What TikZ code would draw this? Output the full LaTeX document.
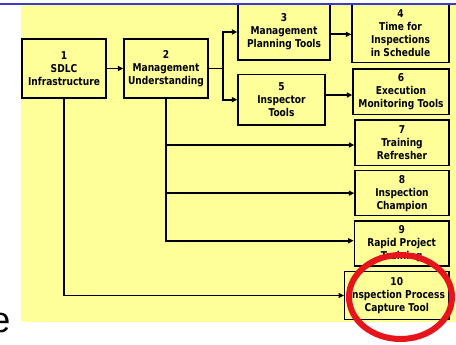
\documentclass[tikz,border=0pt]{standalone}
\usepackage{fontspec}
\setmainfont{DejaVu Sans}
\newfontfamily\boxfont{DejaVu Sans}[FakeStretch=0.84]
\newfontfamily\slidefont{Liberation Sans}
\usetikzlibrary{arrows.meta}
\definecolor{paper}{HTML}{FFFF99}
\definecolor{rulecol}{HTML}{3C3CC8}
\definecolor{markcol}{HTML}{E8141B}
\begin{document}
\begin{tikzpicture}[x=1pt,y=-1pt,
  box/.style={draw=black, line width=1.3pt, fill=paper, align=center,
    inner sep=0pt, font=\boxfont\fontsize{10.8}{13}\selectfont\bfseries},
  conn/.style={line width=1.8pt, -{Triangle[length=5.5pt,width=5pt]}},
  link/.style={line width=1.8pt}]
\useasboundingbox (0,0) rectangle (456,345);
\fill[white] (0,0) rectangle (456,345);
% slide panel
\fill[paper] (21,5) rectangle (456,321.7);
% partial slide title letter
\node[font=\slidefont\fontsize{36}{36}\selectfont, inner sep=0pt, anchor=base east] (title) at (10.6,332) {e};

% boxes
\node[box, minimum width=84pt, minimum height=59pt] (b1) at (64,68.5) {1\\SDLC\\Infrastructure};
\node[box, minimum width=84pt, minimum height=59pt] (b2) at (166,68.5) {2\\Management\\Understanding};
\node[box, minimum width=92pt, minimum height=56pt] (b3) at (284,32) {3\\Management\\Planning Tools};
\node[box, minimum width=97pt, minimum height=58.7pt] (b4) at (400.5,33.3) {4\\Time for\\Inspections\\in Schedule};
\node[box, minimum width=87pt, minimum height=50.7pt] (b5) at (281.5,99.7) {5\\Inspector\\Tools};
\node[box, minimum width=96pt, minimum height=45.3pt] (b6) at (401,91.7) {6\\Execution\\Monitoring Tools};
\node[box, minimum width=94pt, minimum height=45.7pt] (b7) at (402,142.8) {7\\Training\\Refresher};
\node[box, minimum width=94pt, minimum height=45pt] (b8) at (402,193.2) {8\\Inspection\\Champion};
\node[box, minimum width=94.7pt, minimum height=45pt] (b9) at (401.7,243.5) {9\\Rapid Project\\Training};
\node[box, minimum width=104.3pt, minimum height=47.6pt] (b10) at (396.8,295.5) {10\\Inspection Process\\Capture Tool};

% connectors
\draw[conn] (b1.east) -- (b2.west);
\coordinate (split) at (223,68.5);
\draw[link] (b2.east) -- (split);
\draw[conn] (split) |- (b3.west);
\draw[conn] (split) |- (b5.west);
\draw[conn] ([yshift=-2.3pt]b3.east) -- ([yshift=-2.3pt]b3.east -| b4.west);
\draw[conn] ([yshift=4.7pt]b5.east) -- ([yshift=4.7pt]b5.east -| b6.west);
\draw[conn] (b2.south) |- ([yshift=-2.2pt]b7.west);
\draw[conn] (b2.south) |- (b8.west);
\draw[conn] (b2.south) |- ([yshift=2.8pt]b9.west);
\draw[conn] (b1.south) |- (b10.west);

% header rule
\fill[rulecol] (0,3) rectangle (456,5.3);

% highlight ring
\draw[markcol, line width=6pt] (400.5,297) ellipse [x radius=51.5, y radius=42];
\end{tikzpicture}
\end{document}
